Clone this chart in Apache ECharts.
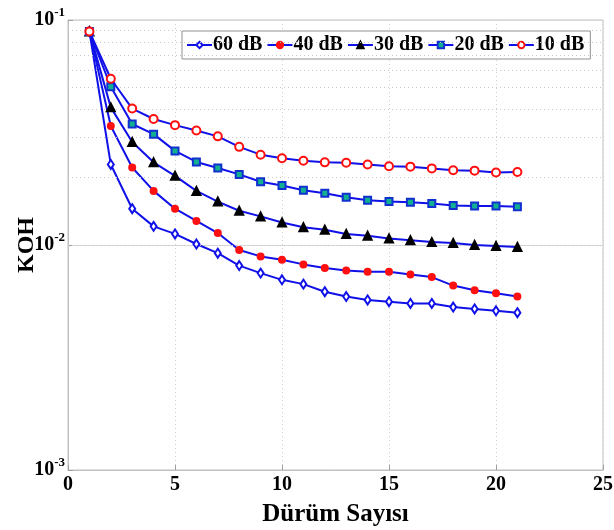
<!DOCTYPE html>
<html>
<head>
<meta charset="utf-8">
<script src="https://cdn.jsdelivr.net/npm/echarts@6/dist/echarts.min.js"></script>
<style>html,body{margin:0;padding:0;background:#fff;}#c{width:614px;height:530px;}</style>
</head>
<body>
<div id="c"></div>
<script>
var steps = [1,2,3,4,5,6,7,8,9,10,11,12,13,14,15,16,17,18,19,20,21];
var seriesNames = ['60 dB','40 dB','30 dB','20 dB','10 dB'];
var koh60 = [0.089,0.0228,0.0145,0.0121,0.0112,0.0101,0.0092,0.0081,0.0075,0.0070,0.0067,0.0062,0.0059,0.0057,0.0056,0.0055,0.0055,0.0053,0.0052,0.0051,0.0050];
var koh40 = [0.089,0.0338,0.0221,0.0174,0.0145,0.0128,0.0113,0.0095,0.0089,0.0086,0.0082,0.0079,0.0077,0.0076,0.0076,0.0074,0.0072,0.0066,0.0063,0.0061,0.0059];
var koh30 = [0.089,0.0409,0.0287,0.0233,0.0203,0.0174,0.0156,0.0142,0.0134,0.0126,0.0120,0.0117,0.0112,0.0110,0.0107,0.0105,0.0103,0.0102,0.0100,0.0099,0.0098];
var koh20 = [0.089,0.0505,0.0345,0.0311,0.0262,0.0234,0.0220,0.0206,0.0191,0.0184,0.0175,0.0170,0.0163,0.0158,0.0156,0.0155,0.0153,0.0150,0.0149,0.0149,0.0148];
var koh10 = [0.089,0.0548,0.0404,0.0363,0.0341,0.0323,0.0304,0.0273,0.0252,0.0243,0.0237,0.0233,0.0232,0.0228,0.0224,0.0223,0.0219,0.0215,0.0214,0.0210,0.0211];
var minorGrid = [0.002,0.003,0.004,0.005,0.006,0.007,0.008,0.009,0.02,0.03,0.04,0.05,0.06,0.07,0.08,0.09];

var FONT = '"Liberation Serif","Times New Roman",serif';
var BLUE = '#1010e8';
function pairs(v){ return steps.map(function(x,i){ return [x, v[i]]; }); }

var markers = [
  {symbol:'diamond', size:[6,9], fill:'#ffffff', edge:BLUE},
  {symbol:'circle', size:6, fill:'#ff1010', edge:'#ff1010'},
  {symbol:'triangle', size:8, fill:'#000000', edge:'#000000'},
  {symbol:'rect', size:7, fill:'#10b090', edge:'#1030d0'},
  {symbol:'circle', size:8, fill:'#ffffff', edge:'#ff1010'}
];
var dataSets = [koh60, koh40, koh30, koh20, koh10];

var series = dataSets.map(function(d, i){
  var m = markers[i];
  var s = {
    name: seriesNames[i], type:'line', data: pairs(d),
    symbol: m.symbol, symbolSize: m.size, showAllSymbol: true,
    lineStyle: {color: BLUE, width: 2},
    itemStyle: {color: m.fill, borderColor: m.edge, borderWidth: 2},
    emphasis: {disabled: true}, animation: false, z: 3 + i
  };
  if (i === 0) {
    s.markLine = {
      silent: true, symbol: 'none', animation: false,
      label: {show: false},
      lineStyle: {color: '#c8c8c8', type: [1,3], width: 1},
      data: minorGrid.map(function(v){ return {yAxis: v}; })
    };
  }
  return s;
});

var chart = echarts.init(document.getElementById('c'), null, {renderer:'canvas'});
chart.setOption({
  backgroundColor: '#ffffff',
  animation: false,
  grid: {left: 68, right: 11, top: 20, bottom: 60, show: true, borderColor: '#c0c0c0', borderWidth: 1, backgroundColor:'#ffffff', outerBoundsMode: 'none', containLabel: false},
  legend: {
    data: seriesNames, left: 182, top: 31, orient: 'horizontal',
    backgroundColor: '#ffffff', borderColor: '#909090', borderWidth: 1,
    padding: [4, 6, 4, 4], itemGap: 4, itemWidth: 25, itemHeight: 8,
    textStyle: {fontFamily: FONT, fontWeight: 'bold', fontSize: 20, color: '#000', padding:[0,0,0,-4]}
  },
  xAxis: {
    type: 'value', min: 0, max: 25, interval: 5,
    name: 'Dürüm Sayısı', nameLocation: 'middle', nameGap: 32,
    nameTextStyle: {fontFamily: FONT, fontWeight: 'bold', fontSize: 25, color: '#000'},
    axisLine: {show: true, lineStyle: {color: '#c0c0c0'}},
    axisTick: {show: true, inside: true, length: 5, lineStyle: {color: '#a0a0a0'}},
    axisLabel: {fontFamily: FONT, fontWeight: 'bold', fontSize: 20, color: '#000', margin: 5},
    splitLine: {show: true, lineStyle: {color: '#d0d0d0', type: [1,3]}}
  },
  yAxis: {
    type: 'log', logBase: 10, min: 0.001, max: 0.1,
    name: 'KOH', nameLocation: 'middle', nameGap: 29, nameRotate: 90, nameMoveOverlap: false,
    nameTextStyle: {fontFamily: FONT, fontWeight: 'bold', fontSize: 24, color: '#000'},
    axisLine: {show: true, lineStyle: {color: '#c0c0c0'}},
    axisTick: {show: true, inside: true, length: 5, lineStyle: {color: '#a0a0a0'}},
    axisLabel: {
      margin: 3,
      formatter: function(v){ var e = Math.round(Math.log10(v)); return '{b|10}{s|' + e + '}'; },
      rich: {
        b: {fontFamily: FONT, fontWeight: 'bold', fontSize: 20, color: '#000'},
        s: {fontFamily: FONT, fontWeight: 'bold', fontSize: 13, color: '#000', padding: [0,0,14,0]}
      }
    },
    splitLine: {show: true, lineStyle: {color: '#d8d8d8', type: 'solid'}}
  },
  series: series
});
</script>
</body>
</html>
